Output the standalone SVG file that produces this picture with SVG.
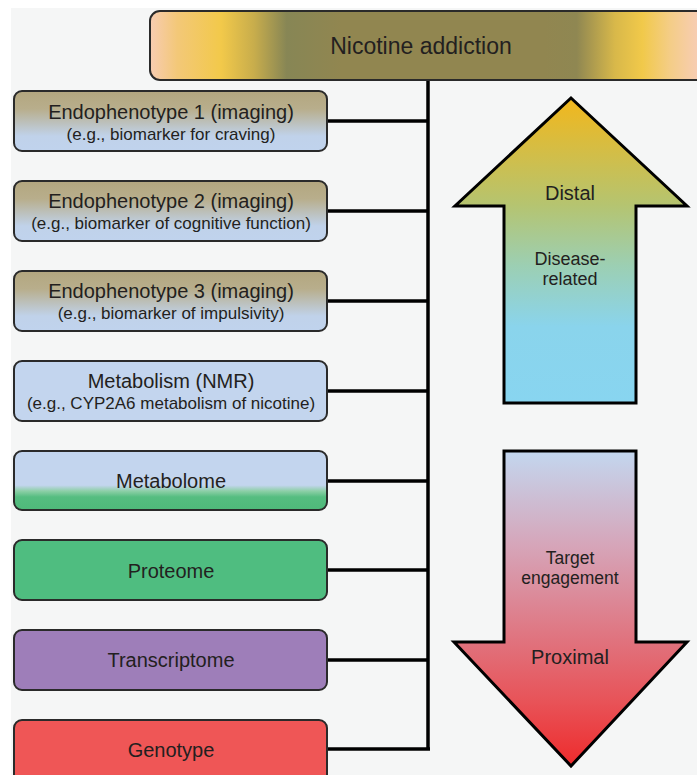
<svg xmlns="http://www.w3.org/2000/svg" width="697" height="775" viewBox="0 0 697 775">
<defs>
<linearGradient id="gTop" gradientUnits="userSpaceOnUse" x1="150" y1="0" x2="697" y2="0">
<stop offset="0" stop-color="#f7ccb2"/>
<stop offset="0.05" stop-color="#f3c878"/>
<stop offset="0.13" stop-color="#f2c94a"/>
<stop offset="0.19" stop-color="#c8ad4c"/>
<stop offset="0.25" stop-color="#878655"/>
<stop offset="0.35" stop-color="#918650"/>
<stop offset="0.72" stop-color="#918650"/>
<stop offset="0.78" stop-color="#8f8752"/>
<stop offset="0.85" stop-color="#d8b84a"/>
<stop offset="0.9" stop-color="#f1c94a"/>
<stop offset="0.95" stop-color="#f4cd86"/>
<stop offset="1" stop-color="#f7cdb2"/>
</linearGradient>
<linearGradient id="gEndo" x1="0" y1="0" x2="0" y2="1">
<stop offset="0" stop-color="#b3a67f"/>
<stop offset="0.3" stop-color="#b8ae8c"/>
<stop offset="0.75" stop-color="#c0d2ea"/>
<stop offset="1" stop-color="#c0d3ed"/>
</linearGradient>
<linearGradient id="gMetab" x1="0" y1="0" x2="0" y2="1">
<stop offset="0" stop-color="#c3d5ee"/>
<stop offset="0.58" stop-color="#c3d5ee"/>
<stop offset="0.68" stop-color="#8ccfa6"/>
<stop offset="0.78" stop-color="#55bd80"/>
<stop offset="1" stop-color="#4fb97a"/>
</linearGradient>
<linearGradient id="gUp" gradientUnits="userSpaceOnUse" x1="0" y1="98" x2="0" y2="403">
<stop offset="0" stop-color="#f2b71c"/>
<stop offset="0.35" stop-color="#b5c470"/>
<stop offset="0.55" stop-color="#9ccfb3"/>
<stop offset="0.75" stop-color="#8ad4ec"/>
<stop offset="1" stop-color="#88d5f0"/>
</linearGradient>
<linearGradient id="gDown" gradientUnits="userSpaceOnUse" x1="0" y1="451" x2="0" y2="766">
<stop offset="0" stop-color="#c3d7ef"/>
<stop offset="0.3" stop-color="#d6a5b9"/>
<stop offset="0.6" stop-color="#e0737e"/>
<stop offset="0.8" stop-color="#e85257"/>
<stop offset="1" stop-color="#ee2b2c"/>
</linearGradient>
<style>
.box{stroke:#2a2a2a;stroke-width:2}
.t{font-family:"Liberation Sans",Arial,sans-serif;fill:#231f20;text-anchor:middle}
.l1{font-size:20px}
.l2{font-size:17px}
.al{font-size:18px}
.conn{stroke:#000;stroke-width:3.5;fill:none}
.arrow{stroke:#000;stroke-width:3;stroke-linejoin:miter}
</style>
</defs>
<rect x="0" y="0" width="697" height="775" fill="#ffffff"/>
<rect x="11" y="8" width="686" height="767" fill="#f5f6f6"/>

<g id="connectors">
<path class="conn" d="M428 80 V749"/>
<path class="conn" d="M327 121 H429"/>
<path class="conn" d="M327 211 H429"/>
<path class="conn" d="M327 301 H429"/>
<path class="conn" d="M327 391 H429"/>
<path class="conn" d="M327 481 H429"/>
<path class="conn" d="M327 570 H429"/>
<path class="conn" d="M327 660 H429"/>
<path class="conn" d="M327 749 H430"/>
</g>

<g id="nicotine">
<rect class="box" x="150" y="11" width="580" height="69" rx="10" fill="url(#gTop)"/>
<text class="t" x="421" y="54" font-size="23">Nicotine addiction</text>
</g>

<g id="endo1">
<rect class="box" x="14" y="91" width="313" height="60" rx="8" fill="url(#gEndo)"/>
<text class="t l1" x="171" y="119">Endophenotype 1 (imaging)</text>
<text class="t l2" x="171" y="140">(e.g., biomarker for craving)</text>
</g>
<g id="endo2">
<rect class="box" x="14" y="181" width="313" height="60" rx="8" fill="url(#gEndo)"/>
<text class="t l1" x="171" y="208">Endophenotype 2 (imaging)</text>
<text class="t l2" x="171" y="229">(e.g., biomarker of cognitive function)</text>
</g>
<g id="endo3">
<rect class="box" x="14" y="271" width="313" height="60" rx="8" fill="url(#gEndo)"/>
<text class="t l1" x="171" y="298">Endophenotype 3 (imaging)</text>
<text class="t l2" x="171" y="319">(e.g., biomarker of impulsivity)</text>
</g>
<g id="metabolism">
<rect class="box" x="14" y="361" width="313" height="60" rx="8" fill="#c3d5ee"/>
<text class="t l1" x="171" y="388">Metabolism (NMR)</text>
<text class="t l2" x="171" y="409">(e.g., CYP2A6 metabolism of nicotine)</text>
</g>
<g id="metabolome">
<rect class="box" x="14" y="451" width="313" height="59" rx="8" fill="url(#gMetab)"/>
<text class="t l1" x="171" y="488">Metabolome</text>
</g>
<g id="proteome">
<rect class="box" x="14" y="540" width="313" height="60" rx="8" fill="#4fbd80"/>
<text class="t l1" x="171" y="578">Proteome</text>
</g>
<g id="transcriptome">
<rect class="box" x="14" y="630" width="313" height="60" rx="8" fill="#9e7eb9"/>
<text class="t l1" x="171" y="667">Transcriptome</text>
</g>
<g id="genotype">
<rect class="box" x="14" y="720" width="313" height="70" rx="8" fill="#ef5656"/>
<text class="t l1" x="171" y="757">Genotype</text>
</g>

<g id="arrow-up">
<path class="arrow" fill="url(#gUp)" d="M571 98 L687 206 L636 206 L636 403 L504 403 L504 206 L455 206 Z"/>
<text class="t" x="570" y="200" font-size="20">Distal</text>
<text class="t al" x="570" y="265">Disease-</text>
<text class="t al" x="570" y="285">related</text>
</g>
<g id="arrow-down">
<path class="arrow" fill="url(#gDown)" d="M504 451 L636 451 L636 642 L687 642 L571 766 L454 642 L504 642 Z"/>
<text class="t" x="570" y="564" font-size="17.5">Target</text>
<text class="t" x="570" y="584" font-size="17.5">engagement</text>
<text class="t" x="570" y="664" font-size="20">Proximal</text>
</g>
</svg>
